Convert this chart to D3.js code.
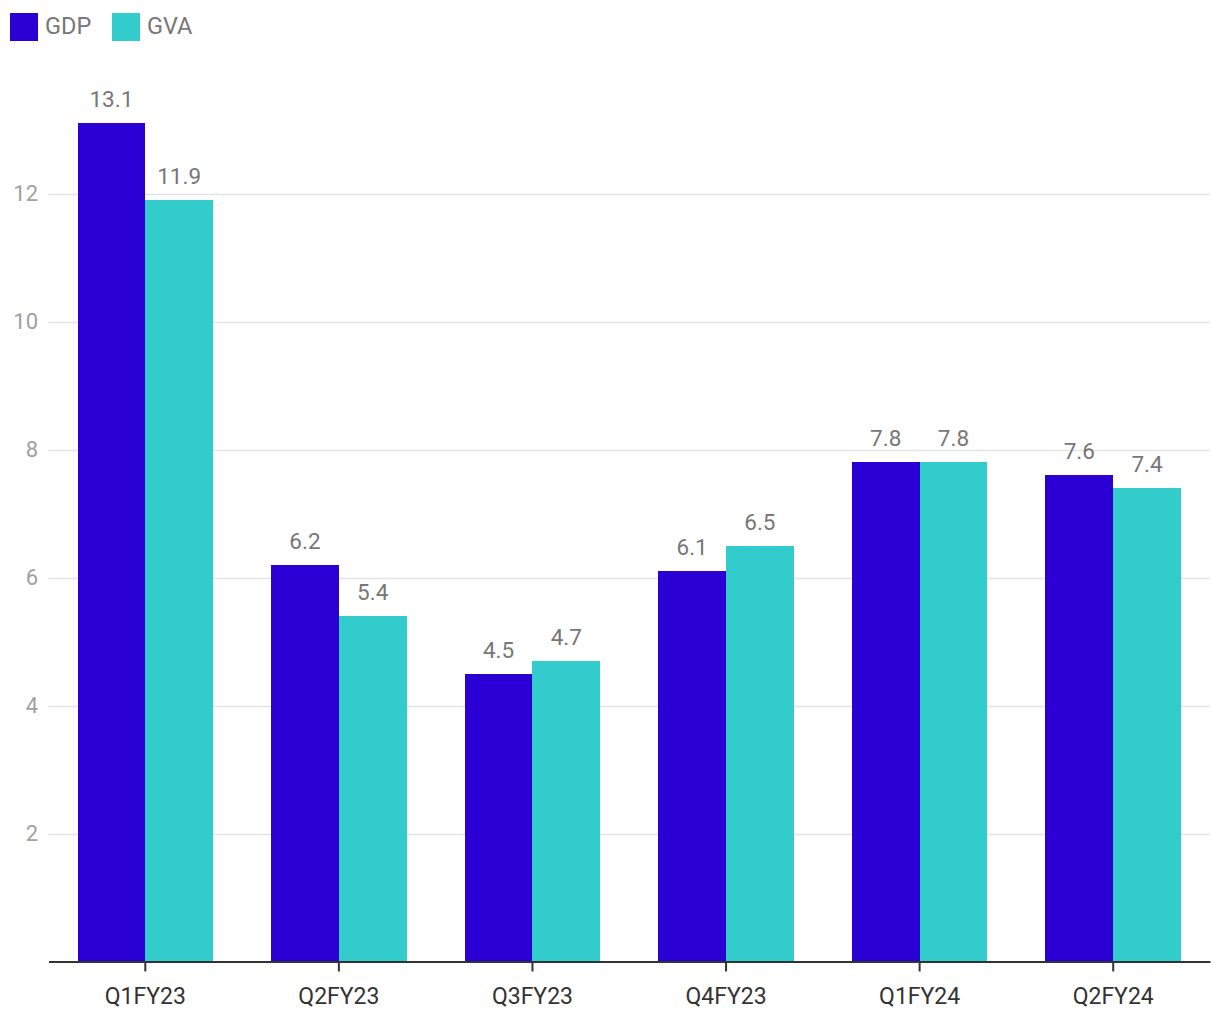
<!DOCTYPE html>
<html><head><meta charset="utf-8">
<script src="https://cdn.jsdelivr.net/npm/d3@7"></script>
<style>body{margin:0;background:#fff;font-family:Roboto,sans-serif;}</style>
</head><body>
<svg id="c" width="1220" height="1020"></svg>
<script>
const categories = ["Q1FY23","Q2FY23","Q3FY23","Q4FY23","Q1FY24","Q2FY24"];
const seriesNames = ["GDP","GVA"];
const gdp = [13.1,6.2,4.5,6.1,7.8,7.6];
const gva = [11.9,5.4,4.7,6.5,7.8,7.4];
const yTicks = [2,4,6,8,10,12];
const colors = ["#2a00d5","#33cccc"];

(function(){
const svg = d3.select("#c");
const mLeft = 48.5, mRight = 1210, mBottom = 961.5;
const y = d3.scaleLinear().domain([0, 14]).range([mBottom, mBottom - 14*64]);
const x0 = d3.scaleBand().domain(categories).range([mLeft, mRight]).paddingInner(0.3).paddingOuter(0.15);
const x1 = d3.scaleBand().domain(seriesNames).range([0, x0.bandwidth()]);

// grid
svg.append("g").selectAll("line").data(yTicks).join("line")
  .attr("x1", mLeft).attr("x2", mRight)
  .attr("y1", d => Math.round(y(d)) + 0.5).attr("y2", d => Math.round(y(d)) + 0.5)
  .attr("stroke", "#e3e3e3").attr("stroke-width", 1.5);
svg.append("g").selectAll("text").data(yTicks).join("text")
  .attr("x", 38).attr("y", d => y(d)).attr("dy", "0.35em")
  .attr("text-anchor", "end").attr("fill", "#a0a0a0").attr("font-size", 22).text(d => d);

const data = categories.map((c, i) => ({c, vals: [gdp[i], gva[i]]}));
const g = svg.append("g").selectAll("g").data(data).join("g")
  .attr("transform", d => `translate(${x0(d.c)},0)`);
g.selectAll("rect").data(d => d.vals.map((v, j) => ({v, s: seriesNames[j], j}))).join("rect")
  .attr("x", d => x1(d.s)).attr("width", x1.bandwidth() + (d => 0)())
  .attr("y", d => y(d.v)).attr("height", d => y(0) - y(d.v))
  .attr("fill", d => colors[d.j]).attr("shape-rendering", "crispEdges");
g.selectAll("text").data(d => d.vals.map((v, j) => ({v, s: seriesNames[j], j}))).join("text")
  .attr("x", d => x1(d.s) + x1.bandwidth()/2).attr("y", d => y(d.v) - 16)
  .attr("text-anchor", "middle").attr("fill", "#777").attr("font-size", 22.5).text(d => d.v);

// x axis
const ax = svg.append("g").attr("transform", `translate(0,${mBottom})`)
  .call(d3.axisBottom(x0).tickSize(10).tickSizeOuter(0));
ax.select(".domain").attr("stroke", "#333").attr("stroke-width", 2);
ax.selectAll(".tick line").attr("stroke", "#333").attr("stroke-width", 2);
ax.selectAll(".tick text").attr("font-family", "Roboto").attr("font-size", 23).attr("fill", "#333").attr("dy", "1.3em");

// legend
const lg = svg.append("g");
const lx = [10, 112];
seriesNames.forEach((s, i) => {
  lg.append("rect").attr("x", lx[i]).attr("y", 13).attr("width", 28).attr("height", 28).attr("fill", colors[i]);
  lg.append("text").attr("x", lx[i] + 35).attr("y", 26).attr("dy", "0.35em")
    .attr("fill", "#777").attr("font-size", 23.5).text(s);
});
})();
</script>
</body></html>
